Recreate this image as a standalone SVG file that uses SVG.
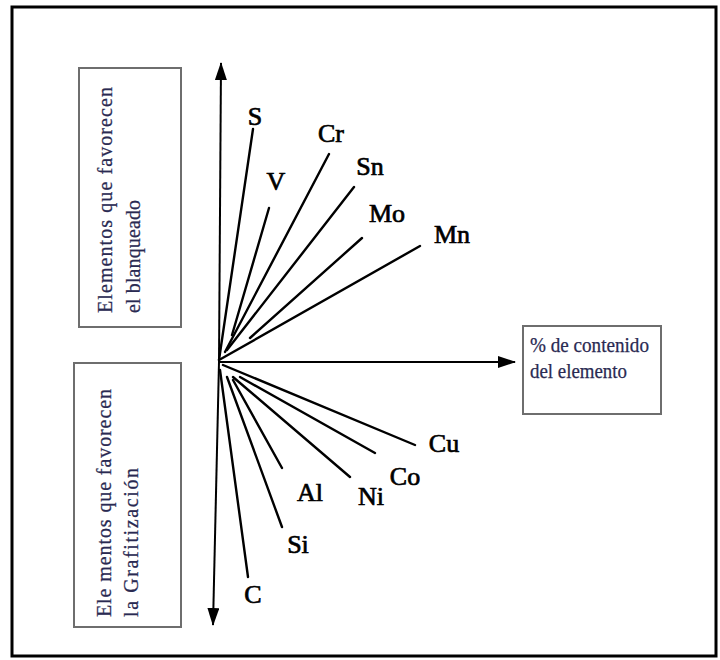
<svg xmlns="http://www.w3.org/2000/svg" width="720" height="660" viewBox="0 0 720 660">
  <defs>
    <marker id="arrow" viewBox="0 0 18 12" refX="17" refY="6" markerWidth="18" markerHeight="12" markerUnits="userSpaceOnUse" orient="auto">
      <path d="M0,0 L18,6 L0,12 Z" fill="#000"/>
    </marker>
    <style>
      .frame { fill: none; stroke: #000; stroke-width: 3; }
      .box { fill: #fff; stroke: #6e6e6e; stroke-width: 2; }
      .btxt { font-family: 'Liberation Serif', Tinos, 'Times New Roman', Times, serif; font-size: 20px; fill: #2a2a52; stroke: #2a2a52; stroke-width: 0.25; }
      .axis { stroke: #000; stroke-width: 2; fill: none; }
      .ray { stroke: #000; stroke-width: 2.4; stroke-linecap: round; fill: none; }
      .lbl { font-family: 'Liberation Serif', Tinos, 'Times New Roman', Times, serif; font-size: 26px; fill: #000; stroke: #000; stroke-width: 0.7; text-anchor: middle; }
    </style>
  </defs>

  <rect width="720" height="660" fill="#fff"/>
  <rect class="frame" x="12" y="7" width="704" height="649"/>

  <g id="box-blanqueado" font-family="Liberation Serif, serif">
    <rect class="box" x="79" y="68" width="102" height="259"/>
    <text class="btxt" transform="translate(112,313) rotate(-90)" textLength="226" lengthAdjust="spacing">Elementos que favorecen</text>
    <text class="btxt" transform="translate(140,313) rotate(-90)" textLength="113" lengthAdjust="spacing">el blanqueado</text>
  </g>

  <g id="box-grafitizacion" font-family="Liberation Serif, serif">
    <rect class="box" x="74" y="363" width="107" height="264"/>
    <text class="btxt" transform="translate(111,617) rotate(-90)" textLength="228" lengthAdjust="spacing">Ele mentos que favorecen</text>
    <text class="btxt" transform="translate(138,617) rotate(-90)" textLength="149" lengthAdjust="spacing">la Grafitización</text>
  </g>

  <g id="box-contenido" font-family="Liberation Serif, serif">
    <rect class="box" x="523" y="326" width="138" height="88"/>
    <text class="btxt" x="530" y="352" textLength="119" lengthAdjust="spacingAndGlyphs">% de contenido</text>
    <text class="btxt" x="530" y="378" textLength="97" lengthAdjust="spacingAndGlyphs">del elemento</text>
  </g>

  <g id="connectors">
    <line class="axis" x1="219" y1="362" x2="221" y2="63" marker-end="url(#arrow)"/>
    <line class="axis" x1="219" y1="362" x2="213" y2="625" marker-end="url(#arrow)"/>
    <line class="axis" x1="219" y1="362" x2="515" y2="362" marker-end="url(#arrow)"/>

    <line class="ray" x1="219" y1="360" x2="253" y2="129"/>
    <line class="ray" x1="232" y1="335" x2="269" y2="208"/>
    <line class="ray" x1="225" y1="352" x2="329" y2="154"/>
    <line class="ray" x1="227" y1="350" x2="354" y2="187"/>
    <line class="ray" x1="250" y1="338" x2="362" y2="238"/>
    <line class="ray" x1="219" y1="360" x2="420" y2="246"/>

    <line class="ray" x1="223" y1="365" x2="415" y2="445"/>
    <line class="ray" x1="240" y1="377" x2="375" y2="453"/>
    <line class="ray" x1="233" y1="377" x2="350" y2="477"/>
    <line class="ray" x1="233" y1="380" x2="282" y2="468"/>
    <line class="ray" x1="227" y1="377" x2="282" y2="527"/>
    <line class="ray" x1="220" y1="370" x2="248" y2="577"/>
  </g>

  <g id="labels" font-family="Liberation Serif, serif">
    <text class="lbl" x="255" y="125">S</text>
    <text class="lbl" x="276" y="190">V</text>
    <text class="lbl" x="331" y="142">Cr</text>
    <text class="lbl" x="370" y="175">Sn</text>
    <text class="lbl" x="387" y="222">Mo</text>
    <text class="lbl" x="452" y="243">Mn</text>
    <text class="lbl" x="444" y="452">Cu</text>
    <text class="lbl" x="405" y="485">Co</text>
    <text class="lbl" x="371" y="505">Ni</text>
    <text class="lbl" x="310" y="501">Al</text>
    <text class="lbl" x="298" y="553">Si</text>
    <text class="lbl" x="253" y="603">C</text>
  </g>
</svg>
